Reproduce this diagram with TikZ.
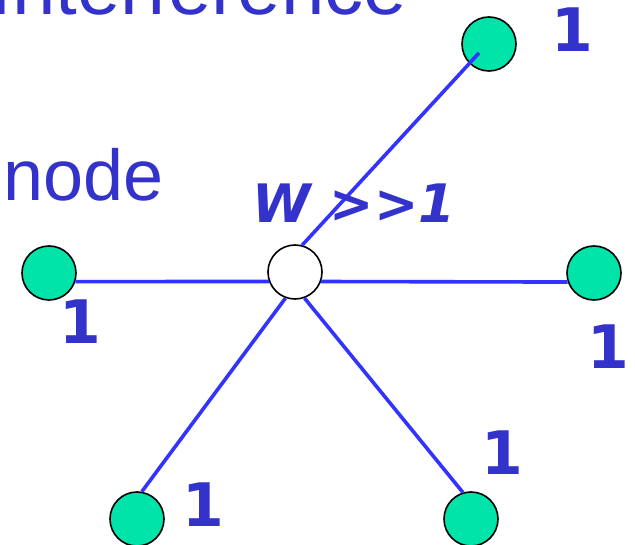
\documentclass[tikz,border=0pt]{standalone}
\usepackage{fontspec}
\setmainfont{Liberation Sans}
\newfontfamily\labelfont{DejaVu Sans}
\usetikzlibrary{calc,positioning}
\definecolor{txtblue}{RGB}{51,51,204}
\definecolor{lnblue}{RGB}{51,51,255}
\definecolor{nodegreen}{RGB}{0,228,170}
\tikzset{
  station/.style={circle,draw=black,line width=1.6pt,fill=nodegreen,minimum size=54pt,inner sep=0pt},
  hubnode/.style={station,fill=white},
  link/.style={lnblue,line width=3.6pt},
  weight/.style={txtblue,inner sep=0pt,font=\labelfont\bfseries\fontsize{60}{60}\selectfont},
  caption/.style={txtblue,inner sep=0pt,font=\fontsize{72}{72}\selectfont}
}
\begin{document}
\begin{tikzpicture}[x=1pt,y=-1pt]
  \useasboundingbox (0,0) rectangle (635,545);
  \clip (0,0) rectangle (635,545);
  % text fragments
  \node[caption,font=\fontsize{78}{78}\selectfont,anchor=base east] (title) at (407,15) {Interference};
  \node[caption,anchor=base west] (word) at (3,201) {node};
  % stations around the hub
  \node[hubnode] (hub) at (295,272) {};
  \node[station] (tr) at (489,44) {};
  \node[station] (lf) at (49,273) {};
  \node[station] (rt) at (594,273) {};
  \node[station] (bl) at (137,519) {};
  \node[station] (br) at (471,519) {};
  % links
  \draw[link] (hub.75) -- ($(tr.center)+(-10,9)$);
  \draw[link] (hub.200) -- (lf.-18);
  \draw[link] (hub.-20) -- (rt.199);
  \draw[link] (hub.250) -- (bl.80);
  \draw[link] (hub.290) -- (br.107);
  % weights
  \node[weight,font=\labelfont\bfseries\itshape\fontsize{53}{53}\selectfont] (w) at (354,203) {W >>1};
  \node[weight] (wtr) at (572,30) {1};
  \node[weight] (wlf) at (80,322) {1};
  \node[weight] (wrt) at (608,347) {1};
  \node[weight] (wbr) at (502,453) {1};
  \node[weight] (wbl) at (203,505) {1};
\end{tikzpicture}
\end{document}
